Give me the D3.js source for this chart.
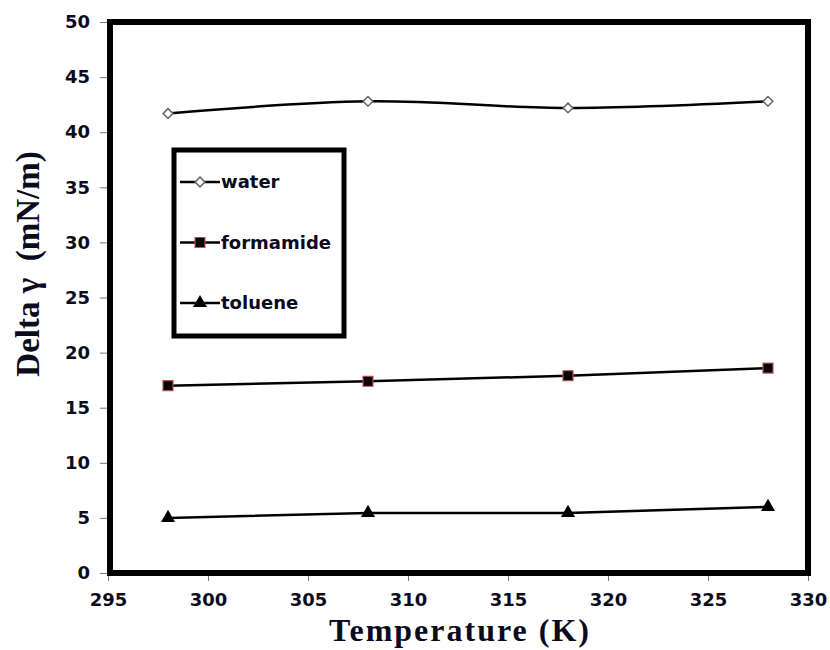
<!DOCTYPE html>
<html>
<head>
<meta charset="utf-8">
<script src="https://cdn.jsdelivr.net/npm/d3@7"></script>
<style>
  body { margin: 0; background: #fff; }
  svg { display: block; }
</style>
</head>
<body>
<svg id="chart" width="830" height="650"></svg>
<script>
// data
var temps = [298, 308, 318, 328];
var water = [41.7, 42.8, 42.2, 42.8];
var formamide = [17.0, 17.4, 17.9, 18.6];
var toluene = [5.0, 5.45, 5.45, 6.0];
var xTicks = [295, 300, 305, 310, 315, 320, 325, 330];
var yTicks = [0, 5, 10, 15, 20, 25, 30, 35, 40, 45, 50];
var seriesNames = ["water", "formamide", "toluene"];

var svg = d3.select("#chart");
var textCol = "#0b0b1e";

var xScale = d3.scaleLinear().domain([295, 330]).range([108, 808]);
var yScale = d3.scaleLinear().domain([0, 50]).range([573, 22]);

//////////////////////////// AXES ////////////////////////////
var yAxis = d3.axisLeft(yScale).tickValues(yTicks).tickSize(8).tickPadding(10);
var gy = svg.append("g").attr("transform", "translate(108,0)").call(yAxis);
gy.select(".domain").remove();
gy.selectAll(".tick line").attr("stroke", "#777");
gy.selectAll(".tick text")
  .attr("font-family", "DejaVu Sans, Verdana, sans-serif")
  .attr("font-weight", "bold")
  .attr("font-size", 18)
  .attr("fill", textCol);

var xAxis = d3.axisBottom(xScale).tickValues(xTicks).tickSize(8).tickPadding(12);
var gx = svg.append("g").attr("transform", "translate(0,573)").call(xAxis);
gx.select(".domain").remove();
gx.selectAll(".tick line").attr("stroke", "#777");
gx.selectAll(".tick text")
  .attr("font-family", "DejaVu Sans, Verdana, sans-serif")
  .attr("font-weight", "bold")
  .attr("font-size", 18)
  .attr("fill", textCol);

// plot frame
svg.append("rect")
  .attr("x", xScale(295) + 2).attr("y", yScale(50))
  .attr("width", xScale(330) - xScale(295) - 2)
  .attr("height", yScale(0) - yScale(50))
  .attr("fill", "none").attr("stroke", "#000").attr("stroke-width", 6);

//////////////////////////// SERIES ////////////////////////////
function pts(vals) {
  return temps.map(function(t, i) { return [t, vals[i]]; });
}

var straight = d3.line()
  .x(function(d) { return xScale(d[0]); })
  .y(function(d) { return yScale(d[1]); });
var smooth = d3.line()
  .x(function(d) { return xScale(d[0]); })
  .y(function(d) { return yScale(d[1]); })
  .curve(d3.curveCatmullRom.alpha(0.5));

svg.append("path").attr("d", smooth(pts(water)))
  .attr("fill", "none").attr("stroke", "#000").attr("stroke-width", 2.5);
svg.append("path").attr("d", straight(pts(formamide)))
  .attr("fill", "none").attr("stroke", "#000").attr("stroke-width", 2.5);
svg.append("path").attr("d", straight(pts(toluene)))
  .attr("fill", "none").attr("stroke", "#000").attr("stroke-width", 2.5);

function marker(g, kind, x, y) {
  if (kind == "water") {
    g.append("path")
      .attr("d", d3.symbol().type(d3.symbolDiamond2).size(60)())
      .attr("transform", "translate(" + x + "," + y + ")")
      .attr("fill", "#fff").attr("stroke", "#666").attr("stroke-width", 1.5);
  } else if (kind == "formamide") {
    g.append("path")
      .attr("d", d3.symbol().type(d3.symbolSquare).size(100)())
      .attr("transform", "translate(" + x + "," + y + ")")
      .attr("fill", "#000").attr("stroke", "#c0504d").attr("stroke-width", 1.2);
  } else {
    g.append("path")
      .attr("d", d3.symbol().type(d3.symbolTriangle).size(85)())
      .attr("transform", "translate(" + x + "," + y + ")")
      .attr("fill", "#000");
  }
}

var seriesVals = [water, formamide, toluene];
seriesNames.forEach(function(name, s) {
  seriesVals[s].forEach(function(v, i) {
    marker(svg, name, xScale(temps[i]), yScale(v));
  });
});

//////////////////////////// LEGEND ////////////////////////////
var legend = svg.append("g");
legend.append("rect")
  .attr("x", 174).attr("y", 150).attr("width", 170).attr("height", 186)
  .attr("fill", "#fff").attr("stroke", "#000").attr("stroke-width", 5);

seriesNames.forEach(function(name, i) {
  var ly = 182 + i * 60.5;
  legend.append("line")
    .attr("x1", 180).attr("x2", 220).attr("y1", ly).attr("y2", ly)
    .attr("stroke", "#000").attr("stroke-width", 2.5);
  marker(legend, name, 200, ly);
  legend.append("text")
    .attr("x", 221).attr("y", ly + 6)
    .attr("font-family", "DejaVu Sans, Verdana, sans-serif")
    .attr("font-weight", "bold")
    .attr("font-size", 18)
    .attr("fill", textCol)
    .text(name);
});

//////////////////////////// TITLES ////////////////////////////
svg.append("text")
  .attr("x", 460).attr("y", 641)
  .attr("text-anchor", "middle")
  .attr("font-family", "Liberation Serif, Times New Roman, serif")
  .attr("font-weight", "bold")
  .attr("font-size", 32)
  .attr("letter-spacing", 2)
  .attr("fill", textCol)
  .text("Temperature (K)");

svg.append("text")
  .attr("transform", "translate(39,264) rotate(-90)")
  .attr("text-anchor", "middle")
  .attr("font-family", "Liberation Serif, Times New Roman, serif")
  .attr("font-weight", "bold")
  .attr("font-size", 33)
  .attr("fill", textCol)
  .attr("xml:space", "preserve")
  .text("Delta \u03b3  (mN/m)");
</script>
</body>
</html>
